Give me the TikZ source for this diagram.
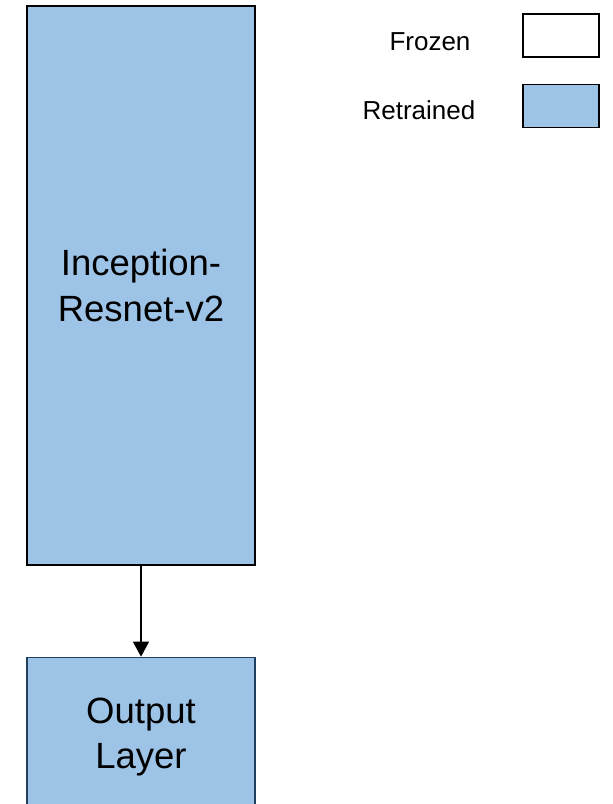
\documentclass[tikz,border=0pt]{standalone}
\usepackage{fontspec}
\setmainfont{Liberation Sans}
\usetikzlibrary{positioning,arrows.meta}
\definecolor{retrain}{HTML}{9DC3E6}
\definecolor{outline}{HTML}{1F3F5F}
\tikzset{
    layer/.style={draw, line width=1.3pt, fill=retrain, align=center, inner sep=0pt},
    keybox/.style={draw, line width=1.8pt, minimum width=76pt, minimum height=43pt, inner sep=0pt},
    keytext/.style={font=\fontsize{26}{30}\selectfont, anchor=base},
}
\def\bigfont{\fontsize{36.5}{46}\selectfont}

\begin{document}
\begin{tikzpicture}[x=1pt, y=-1pt]
    \clip (0,0) rectangle (613,804);
    \fill[white] (0,0) rectangle (613,804);
    % network
    \node[layer, minimum width=228pt, minimum height=559pt, font=\bigfont] (net) at (141,285.5) {Inception-\\Resnet-v2};
    \node[layer, draw=outline, minimum width=228pt, minimum height=160pt, font=\fontsize{36.5}{45}\selectfont, below=91pt of net] (out) {Output\\Layer};
    \draw[line width=1.6pt, -{Triangle[length=15pt, width=16pt]}] (net.south) -- (out.north);
    % legend
    \node[keybox, fill=white] (frozenbox) at (561,35.5) {};
    \node[keybox, fill=retrain] (retrainbox) at (561,106) {};
    \node[keytext] (frozen) at (430,50) {Frozen};
    \node[keytext] (retrained) at (419,119) {Retrained};
\end{tikzpicture}
\end{document}
